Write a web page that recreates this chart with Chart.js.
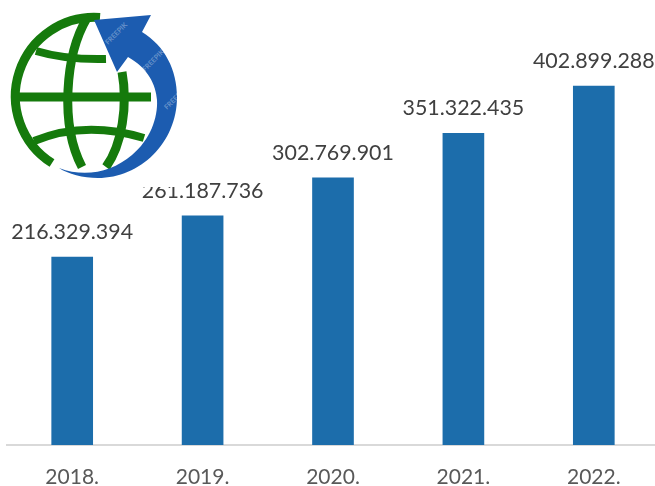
<!DOCTYPE html>
<html>
<head>
<meta charset="utf-8">
<script src="https://cdn.jsdelivr.net/npm/chart.js@4"></script>
<style>
  html, body { margin: 0; padding: 0; background: #fff; overflow: hidden; }
  #wrap { position: relative; width: 660px; height: 486px; }
  #logo { position: absolute; left: 0; top: 0; }
</style>
</head>
<body>
<div id="wrap">
  <canvas id="barChart"></canvas>
  <!-- logo sits on top of the chart, its white box cuts the 2019 label like in the original -->
  <svg id="logo" width="178" height="187" viewBox="0 0 178 187">
    <rect width="178" height="187" fill="#fff"/>
    <g fill="none" stroke="#157a0c">
      <path d="M52 163 A79 79 0 0 1 100 17.5" stroke-width="9"/>
      <path d="M87 18 C65 55 60 125 82 167" stroke-width="9"/>
      <path d="M122 72 C128 105 122 145 106 167" stroke-width="9"/>
      <path d="M18 97 H151" stroke-width="9"/>
      <path d="M36 51 Q66 60 106 59" stroke-width="8"/>
      <path d="M34 141 Q85 120 144 138" stroke-width="8"/>
    </g>
    <path fill="#1c5cb0" d="M94 20 L151 15 L142 32 C165 46 177 70 177 97 C177 143 140 178 98 178 C83 178 68 174 59 168 C85 178 112 172 132 155 C150 140 158 118 157 100 C156 85 148 68 128 57 L117 72 Z"/>
    <g fill="#fff" fill-opacity="0.35" font-family="Lato" font-size="7" font-weight="700">
      <text transform="translate(108 45) rotate(-45)">FREEPIK</text>
      <text transform="translate(145 72) rotate(-45)">FREEPIK</text>
      <text transform="translate(167 110) rotate(-45)">FREEPIK</text>
    </g>
  </svg>
</div>
<script>
const years = ['2018.', '2019.', '2020.', '2021.', '2022.'];
const totals = [216329394, 261187736, 302769901, 351322435, 402899288];
const totalLabels = ['216.329.394', '261.187.736', '302.769.901', '351.322.435', '402.899.288'];

// axis does not start at zero in the original
const axisMin = 11200000;
const axisMax = 496700000;

// Draw the value above each bar
const valueLabels = {
  id: 'valueLabels',
  afterDatasetsDraw(chart) {
    const ctx = chart.ctx;
    const bars = chart.getDatasetMeta(0).data;
    ctx.save();
    ctx.font = '21.4px Lato';
    ctx.fillStyle = '#404040';
    ctx.textAlign = 'center';
    ctx.textBaseline = 'alphabetic';
    bars.forEach((bar, i) => {
      ctx.fillText(totalLabels[i], bar.x, bar.y - 18);
    });
    ctx.restore();
  },
};

const ctx = document.querySelector('#barChart').getContext('2d');

new Chart(ctx, {
  type: 'bar',
  data: {
    labels: years,
    datasets: [
      {
        data: totals,
        backgroundColor: '#1c6dab',
        barThickness: 41,
      },
    ],
  },
  plugins: [valueLabels],
  options: {
    responsive: true,
    maintainAspectRatio: false,
    animation: false,
    layout: { padding: { left: 7, right: 1 } },
    plugins: {
      legend: { display: false },
      tooltip: { enabled: false },
    },
    scales: {
      x: {
        grid: { display: false },
        border: { color: '#d9d9d9', width: 2 },
        ticks: {
          color: '#595959',
          font: { family: 'Lato', size: 21 },
          padding: 12,
          maxRotation: 0,
        },
        afterFit(scale) {
          scale.height = 41;
        },
      },
      y: {
        display: false,
        min: axisMin,
        max: axisMax,
      },
    },
  },
});
</script>
</body>
</html>
